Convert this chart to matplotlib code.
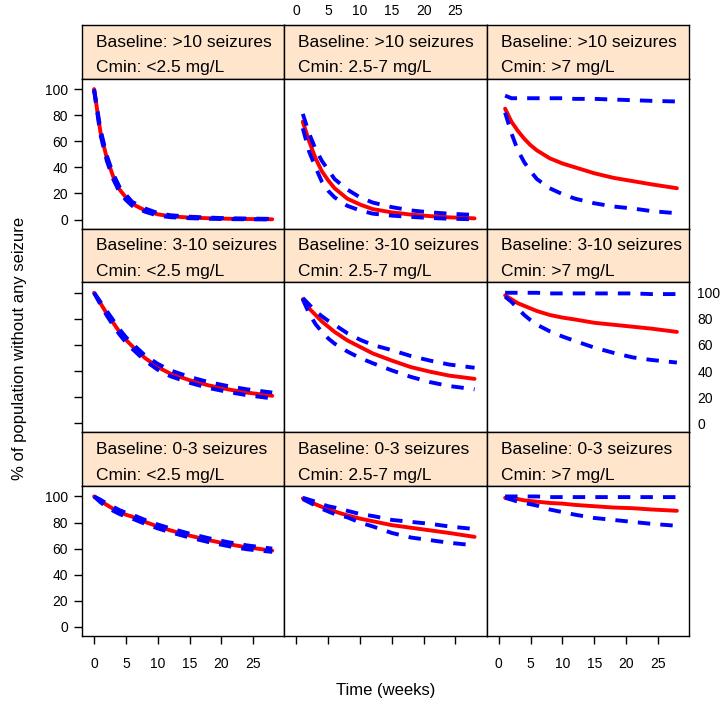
import numpy as np
import matplotlib.pyplot as plt

plt.rcParams['font.family'] = ['Liberation Sans', 'DejaVu Sans']

nan = np.nan

# time grid (weeks) the values were read at
weeks = [0, 1, 2, 3, 4, 5, 6, 8, 10, 12, 15, 18, 21, 24, 28]

baseline_labels = ['>10', '3-10', '0-3']
cmin_labels = ['<2.5', '2.5-7', '>7']

# baseline >10 seizures
b10_c1_med = [100, 67, 47, 33, 23, 17, 12, 7, 4, 2.5, 1.5, 1, 0.6, 0.4, 0.2]
b10_c1_lo = [99, 65, 45, 31, 21, 15, 10.5, 6, 3, 1.8, 1, 0.6, 0.3, 0.2, 0.1]
b10_c1_hi = [100, 69, 49, 35, 25, 19, 13.5, 8.5, 5, 3.3, 2.2, 1.5, 1, 0.8, 0.5]
b10_c2_med = [nan, 75, 60, 47, 37, 30, 24, 16, 11.5, 8, 5.5, 3.8, 2.6, 1.7, 0.9]
b10_c2_lo = [nan, 70, 52, 40, 29, 22, 17, 10.5, 7, 4.5, 3, 2, 1.2, 0.6, 0.2]
b10_c2_hi = [nan, 81, 66, 54, 45, 38, 31, 23, 17, 13, 9.5, 7, 5.5, 4.5, 3.5]
b10_c3_med = [nan, 85, 75, 68, 62, 57, 53, 47, 43, 40, 35.5, 32, 29.5, 27, 24]
b10_c3_lo = [nan, 82, 66, 53, 44, 37, 31, 24, 19.5, 16, 12.5, 10, 8.5, 6.5, 4.8]
b10_c3_hi = [nan, 95, 93, 93, 93, 93, 93, 93, 93, 92.5, 92.5, 92, 91.5, 91, 90.5]

# baseline 3-10 seizures
b3_c1_med = [100, 92, 84, 77, 70, 64, 59, 50, 43, 38, 33, 29, 26, 23.5, 21]
b3_c1_lo = [100, 91, 82.5, 75, 68, 62, 57, 48, 41, 36, 31, 27, 24, 21.5, 19]
b3_c1_hi = [100, 93, 86, 79, 72, 66, 61, 52, 45.5, 40.5, 35.5, 31.5, 28.5, 26, 23.5]
b3_c2_med = [nan, 95, 88, 83, 78, 74, 70, 63.5, 58.5, 53.5, 48, 43, 39.5, 36.5, 34]
b3_c2_lo = [nan, 95, 84, 76, 70, 65, 61, 55, 50, 46, 40.5, 35.5, 31.5, 28.5, 26]
b3_c2_hi = [nan, 96, 91, 86, 82, 78.5, 75.5, 69, 64, 60, 56, 51.5, 48, 45, 42.5]
b3_c3_med = [nan, 98, 95, 92, 90, 88, 86, 83, 81, 79.5, 77, 75.5, 74, 72.5, 70]
b3_c3_lo = [nan, 97, 93, 88, 83, 79, 75.5, 70.5, 66.5, 63, 58, 54, 50.5, 48.5, 46.5]
b3_c3_hi = [nan, 100, 100, 100, 100, 100, 100, 99.5, 99.5, 99.5, 99.5, 99.5, 99.5, 99, 99]

# baseline 0-3 seizures
b0_c1_med = [100, 96.5, 93.5, 90.5, 88, 86, 84.5, 80.5, 77, 74, 70, 66.5, 63.5, 61, 58.5]
b0_c1_lo = [100, 95.5, 92, 89, 86.5, 84.5, 83, 79, 75.5, 72.5, 68.5, 65, 62, 59.5, 57.5]
b0_c1_hi = [100, 97.5, 94.5, 92, 89.5, 87.5, 86, 82, 78.5, 75.5, 71.5, 68, 65, 62.5, 60]
b0_c2_med = [nan, 98.5, 96.5, 94, 92, 90, 88.5, 85.5, 83, 81, 78, 76, 74, 72, 69]
b0_c2_lo = [nan, 98, 95.5, 93, 90.5, 88.5, 86.5, 84, 80, 77, 72, 68.5, 66.5, 64.5, 62.5]
b0_c2_hi = [nan, 99, 97.5, 96, 94, 92.5, 91.5, 89, 86.5, 85, 82, 80.5, 79, 77, 75]
b0_c3_med = [nan, 99, 98.5, 98, 97, 96.5, 96, 95, 94.5, 93.5, 92.5, 91.5, 91, 90, 89]
b0_c3_lo = [nan, 99, 97.5, 96, 95, 94, 93, 90, 88, 86, 83.5, 82, 80.5, 79, 77.5]
b0_c3_hi = [nan, 100, 100, 100, 100, 100, 100, 99.5, 99.5, 99.5, 99.5, 99.5, 99.5, 99.5, 99.5]

curves = [
    [(b10_c1_med, b10_c1_lo, b10_c1_hi), (b10_c2_med, b10_c2_lo, b10_c2_hi), (b10_c3_med, b10_c3_lo, b10_c3_hi)],
    [(b3_c1_med, b3_c1_lo, b3_c1_hi), (b3_c2_med, b3_c2_lo, b3_c2_hi), (b3_c3_med, b3_c3_lo, b3_c3_hi)],
    [(b0_c1_med, b0_c1_lo, b0_c1_hi), (b0_c2_med, b0_c2_lo, b0_c2_hi), (b0_c3_med, b0_c3_lo, b0_c3_hi)],
]

W, H = 721, 706
fig = plt.figure(figsize=(W / 100, H / 100), dpi=100)

# lattice-like grid, in pixels
x0, col_w = 82, 202.33
y0, strip_h, panel_h = 25, 53.67, 150


def box(left, top, w, h):
    return [left / W, 1 - (top + h) / H, w / W, h / H]


xt = [0, 5, 10, 15, 20, 25]
yt = [0, 20, 40, 60, 80, 100]
dash = (0, (3.2, 2.6))

for r in range(3):
    for c in range(3):
        left = x0 + c * col_w
        top = y0 + r * (strip_h + panel_h)

        # strip
        sax = fig.add_axes(box(left, top, col_w, strip_h))
        sax.set_facecolor('#FFE5CC')
        sax.set_xticks([])
        sax.set_yticks([])
        for sp in sax.spines.values():
            sp.set_linewidth(1.0)
        sax.text(0.069, 0.68, 'Baseline: %s seizures' % baseline_labels[r],
                 ha='left', va='center', fontsize=12.5, transform=sax.transAxes)
        sax.text(0.069, 0.2, 'Cmin: %s mg/L' % cmin_labels[c],
                 ha='left', va='center', fontsize=12.5, transform=sax.transAxes)

        # panel
        ax = fig.add_axes(box(left, top + strip_h, col_w, panel_h))
        med, lo, hi = curves[r][c]
        ax.plot(weeks, med, color='red', lw=2.8, solid_capstyle='round')
        ax.plot(weeks, lo, color='blue', lw=2.8, linestyle=dash)
        ax.plot(weeks, hi, color='blue', lw=2.8, linestyle=dash)
        ax.set_xlim(-1.9, 29.9)
        ax.set_ylim(-7, 108)
        ax.set_xticks(xt)
        ax.set_yticks(yt)
        for sp in ax.spines.values():
            sp.set_linewidth(1.0)
        ax.tick_params(direction='out', length=6, width=1, labelsize=10, pad=4,
                       left=(c == 0), labelleft=(c == 0 and r != 1),
                       bottom=(r == 2), labelbottom=(r == 2 and c != 1),
                       top=False, right=False)
        ax.tick_params(axis='x', pad=9)

        # alternating labels like lattice
        if r == 1 and c == 2:
            sec = ax.secondary_yaxis('right')
            sec.set_yticks(yt)
            sec.tick_params(length=0, pad=6, labelsize=10)
        if r == 0 and c == 1:
            sec = ax.secondary_xaxis(1 + strip_h / panel_h)
            sec.set_xticks(xt)
            sec.tick_params(length=0, pad=5, labelsize=10)

fig.text(20 / W, 1 - 348 / H, '% of population without any seizure',
         rotation=90, ha='center', va='center', fontsize=12)
fig.text(386 / W, 1 - 690 / H, 'Time (weeks)', ha='center', va='center', fontsize=12)

fig.savefig('out.png', dpi=100)
